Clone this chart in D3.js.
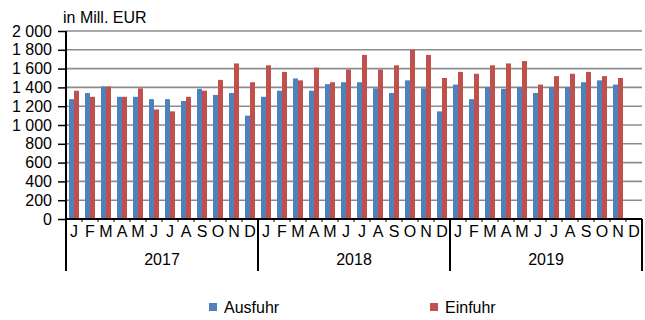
<!DOCTYPE html>
<html>
<head>
<meta charset="utf-8">
<script src="https://cdn.jsdelivr.net/npm/d3@7"></script>
<style>
  html, body { margin: 0; padding: 0; background: #fff; }
  svg { display: block; font-family: "Liberation Sans", Arial, sans-serif; }
</style>
</head>
<body>
<svg id="chart" width="645" height="320"></svg>
<script>
// Monthly foreign trade, in million EUR
const years = ["2017", "2018", "2019"];
const monthLetters = ["J", "F", "M", "A", "M", "J", "J", "A", "S", "O", "N", "D"];
const seriesNames = ["Ausfuhr", "Einfuhr"];
const yTicks = [0, 200, 400, 600, 800, 1000, 1200, 1400, 1600, 1800, 2000];

const ausfuhr = [
  1275, 1340, 1410, 1300, 1300, 1275, 1275, 1255, 1385, 1320, 1340, 1100,
  1300, 1365, 1495, 1365, 1435, 1455, 1455, 1390, 1340, 1475, 1390, 1145,
  1430, 1275, 1405, 1385, 1405, 1340, 1405, 1405, 1455, 1475, 1430, null
];
const einfuhr = [
  1365, 1300, 1410, 1300, 1390, 1165, 1145, 1300, 1365, 1480, 1655, 1455,
  1635, 1565, 1475, 1610, 1455, 1590, 1745, 1590, 1635, 1800, 1745, 1500,
  1565, 1545, 1635, 1655, 1680, 1430, 1520, 1545, 1565, 1520, 1500, null
];

const colors = { Ausfuhr: "#4f81bd", Einfuhr: "#c0504d" };
const fmt = v => d3.format(",")(v).replace(/,/g, " ");

const svg = d3.select("#chart");
const plotLeft = 66, plotRight = 642, plotTop = 31, plotBottom = 219, frameBottom = 271;

const months = d3.range(years.length * 12);
const x = d3.scaleBand().domain(months).range([plotLeft, plotRight])
  .paddingInner(0.375).paddingOuter(0.1875);
const xs = d3.scaleBand().domain(seriesNames).range([0, x.bandwidth()]);
const y = d3.scaleLinear().domain([0, 2000]).range([plotBottom, plotTop]);
const slot = (plotRight - plotLeft) / months.length;

// horizontal gridlines
svg.append("g").selectAll("line").data(yTicks.filter(d => d > 0)).join("line")
  .attr("x1", plotLeft).attr("x2", plotRight)
  .attr("y1", d => y(d)).attr("y2", d => y(d))
  .attr("stroke", "#8c8c8c").attr("stroke-width", 1.6);

// bars
const data = months.map(i => ({ i, Ausfuhr: ausfuhr[i], Einfuhr: einfuhr[i] }));
const groups = svg.append("g").selectAll("g").data(data).join("g")
  .attr("transform", d => `translate(${x(d.i)},0)`);
groups.selectAll("rect")
  .data(d => seriesNames.filter(s => d[s] != null).map(s => ({ s, v: d[s] })))
  .join("rect")
  .attr("x", d => xs(d.s))
  .attr("width", xs.bandwidth())
  .attr("y", d => y(d.v))
  .attr("height", d => y(0) - y(d.v))
  .attr("fill", d => colors[d.s]);

// y axis
const yAxis = svg.append("g").attr("transform", `translate(${plotLeft},0)`)
  .call(d3.axisLeft(y).tickValues(yTicks).tickSize(8).tickPadding(6).tickFormat(fmt));
yAxis.select(".domain").remove();
yAxis.selectAll(".tick line").attr("stroke", "#000").attr("stroke-width", 1.5);
yAxis.selectAll("text").attr("font-size", 16).attr("fill", "#000")
  .attr("font-family", "Liberation Sans, Arial, sans-serif");

// axis frame: vertical axis line running down through the category area
svg.append("line").attr("x1", plotLeft).attr("x2", plotLeft).attr("y1", plotTop).attr("y2", frameBottom)
  .attr("stroke", "#000").attr("stroke-width", 2);
svg.append("line").attr("x1", plotLeft).attr("x2", plotRight).attr("y1", plotBottom).attr("y2", plotBottom)
  .attr("stroke", "#000").attr("stroke-width", 2);

// small month ticks below the x axis
svg.append("g").selectAll("line").data(d3.range(1, months.length)).join("line")
  .attr("x1", d => plotLeft + d * slot).attr("x2", d => plotLeft + d * slot)
  .attr("y1", plotBottom).attr("y2", plotBottom + 3)
  .attr("stroke", "#000").attr("stroke-width", 1);

// year separators
svg.append("g").selectAll("line").data(d3.range(1, years.length + 1)).join("line")
  .attr("x1", d => plotLeft + d * 12 * slot).attr("x2", d => plotLeft + d * 12 * slot)
  .attr("y1", plotBottom).attr("y2", frameBottom)
  .attr("stroke", "#000").attr("stroke-width", 2);

// month labels
svg.append("g").selectAll("text").data(months).join("text")
  .attr("x", d => plotLeft + (d + 0.5) * slot)
  .attr("y", 237)
  .attr("text-anchor", "middle").attr("font-size", 16).attr("fill", "#000")
  .text(d => monthLetters[d % 12]);

// year labels
svg.append("g").selectAll("text").data(years).join("text")
  .attr("x", (d, i) => plotLeft + (i + 0.5) * 12 * slot)
  .attr("y", 265)
  .attr("text-anchor", "middle").attr("font-size", 16).attr("fill", "#000")
  .text(d => d);

// unit label
svg.append("text").attr("x", 63).attr("y", 23)
  .attr("font-size", 16).attr("fill", "#000").text("in Mill. EUR");

// legend
const legendX = { Ausfuhr: 209, Einfuhr: 430 };
const lg = svg.append("g").selectAll("g").data(seriesNames).join("g")
  .attr("transform", d => `translate(${legendX[d]},303)`);
lg.append("rect").attr("width", 8).attr("height", 8).attr("fill", d => colors[d]);
lg.append("text").attr("x", 15).attr("y", 10).attr("font-size", 16).attr("fill", "#000")
  .text(d => d);
</script>
</body>
</html>
